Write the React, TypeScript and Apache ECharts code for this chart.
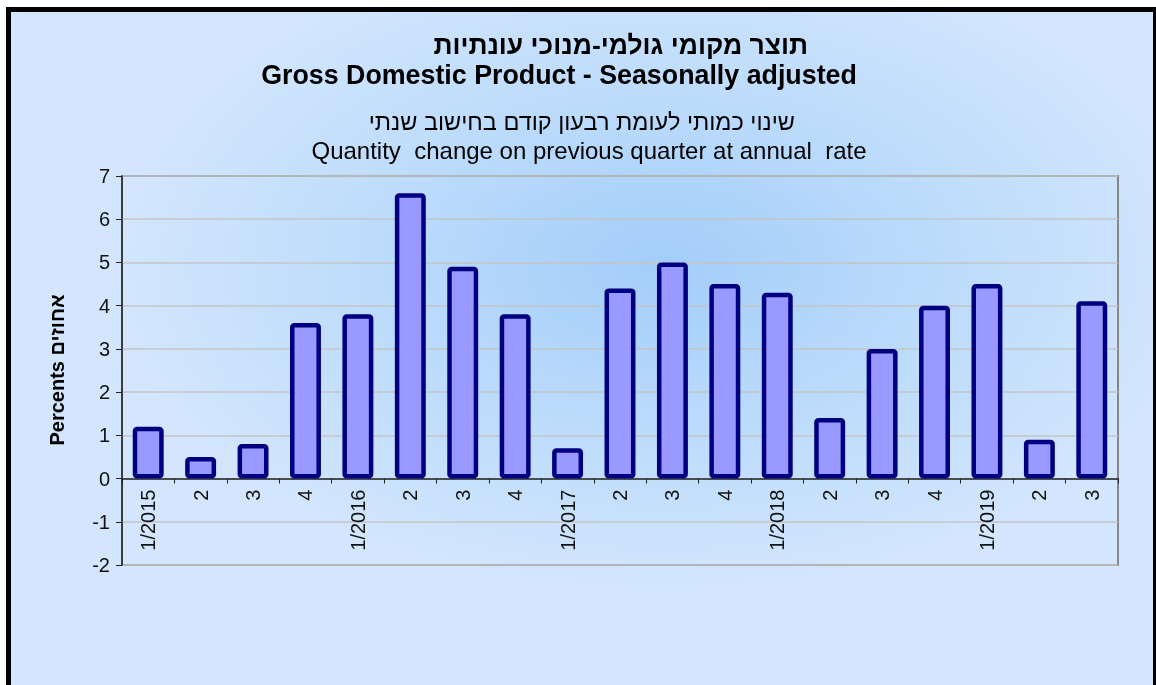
import React, { useEffect, useRef } from "react";
import * as echarts from "echarts";

const categories = ["1/2015", "2", "3", "4", "1/2016", "2", "3", "4", "1/2017", "2", "3", "4", "1/2018", "2", "3", "4", "1/2019", "2", "3"];
const values = [1.2, 0.5, 0.8, 3.6, 3.8, 6.6, 4.9, 3.8, 0.7, 4.4, 5.0, 4.5, 4.3, 1.4, 3.0, 4.0, 4.5, 0.9, 4.1];
const yMin = -2;
const yMax = 7;
const titleHe = "תוצר מקומי גולמי-מנוכי עונתיות";
const titleEn = "Gross Domestic Product - Seasonally adjusted";
const subHe = "שינוי כמותי לעומת רבעון קודם בחישוב שנתי";
const subEn = "Quantity  change on previous quarter at annual  rate";
const yName = "Percents אחוזים";

const FONT = "'Liberation Sans', Arial, 'DejaVu Sans', sans-serif";
const GRID_H = 389;

export default function App() {
  const ref = useRef<HTMLDivElement>(null);
  useEffect(() => {
    if (!ref.current) return;
    const chart = echarts.init(ref.current, null, { renderer: "svg" });
    chart.setOption({
      animation: false,
      backgroundColor: "transparent",
      textStyle: { fontFamily: FONT },
      grid: { left: 111, top: 164, width: 996, height: GRID_H, show: true, borderColor: "#868686", borderWidth: 2, backgroundColor: "transparent" },
      xAxis: {
        type: "category",
        data: categories,
        offset: -(GRID_H * (0 - yMin)) / (yMax - yMin),
        axisLine: { onZero: false, lineStyle: { color: "#222", width: 1.5 } },
        axisTick: { show: true, interval: 0, length: 5, lineStyle: { color: "#222" } },
        axisLabel: { interval: 0, rotate: 90, margin: 11, fontSize: 20, color: "#111", fontFamily: FONT },
        splitLine: { show: false },
      },
      yAxis: {
        type: "value",
        min: yMin,
        max: yMax,
        interval: 1,
        axisLine: { show: true, lineStyle: { color: "#222", width: 1.5 } },
        axisTick: { show: true, length: 6, lineStyle: { color: "#222" } },
        axisLabel: { fontSize: 20, color: "#111", margin: 12, fontFamily: FONT },
        splitLine: { show: true, lineStyle: { color: "#c4c4c4", width: 1.5 } },
      },
      series: [
        {
          type: "bar",
          data: values,
          barWidth: "59%",
          itemStyle: { color: "#9999ff", borderColor: "#000080", borderWidth: 4.5, borderRadius: 2 },
        },
      ],
      graphic: [
        { type: "text", x: 797, y: 33, style: { text: titleHe, font: `bold 26.5px ${FONT}`, fill: "#000", textAlign: "right", textVerticalAlign: "middle" } },
        { type: "text", x: 548, y: 63, style: { text: titleEn, font: `bold 26.8px ${FONT}`, fill: "#000", textAlign: "center", textVerticalAlign: "middle" } },
        { type: "text", x: 784, y: 110, style: { text: subHe, font: `23.5px ${FONT}`, fill: "#000", textAlign: "right", textVerticalAlign: "middle" } },
        { type: "text", x: 578, y: 138, style: { text: subEn, font: `24px ${FONT}`, fill: "#000", textAlign: "center", textVerticalAlign: "middle" } },
        { type: "text", x: 46, y: 358, rotation: Math.PI / 2, style: { text: yName, font: `bold 20px ${FONT}`, fill: "#000", textAlign: "center", textVerticalAlign: "middle" } },
      ],
    });
    return () => chart.dispose();
  }, []);
  return (
    <div
      style={{
        position: "fixed",
        left: 6,
        top: 7,
        width: 1152,
        height: 690,
        boxSizing: "border-box",
        borderTop: "5px solid #000",
        borderLeft: "5px solid #000",
        borderRight: "5px solid #000",
        background: "radial-gradient(ellipse 48% 48% at 57% 37%, #a3cdf9 0%, #b9dafb 45%, #d3e6fd 100%)",
        overflow: "hidden",
      }}
    >
      <div ref={ref} style={{ width: 1142, height: 685 }} />
    </div>
  );
}
